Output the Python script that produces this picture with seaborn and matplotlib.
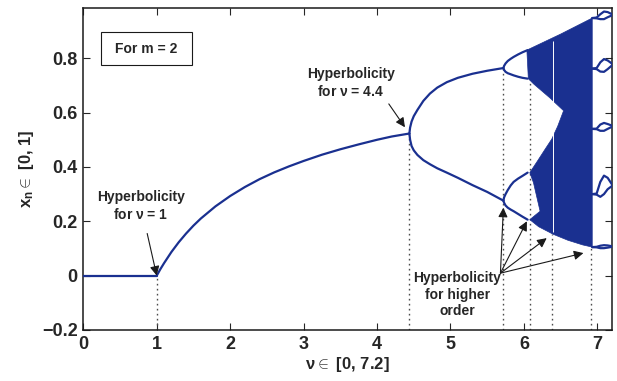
import numpy as np
import pandas as pd
import matplotlib
matplotlib.use("Agg")
import matplotlib.pyplot as plt
import matplotlib.patches as mpatches
import seaborn as sns

# ramo x = 0 (nu < 1)
zero_nu = [0.0, 1.0]
zero_x = [0.0, 0.0]

# ponto fixo entre nu = 1 e nu = 4.44
fixo_nu = [1.0, 1.05, 1.1, 1.2, 1.3, 1.4, 1.5, 1.6, 1.8, 2.0, 2.2, 2.4, 2.6,
           2.8, 3.0, 3.25, 3.5, 3.75, 4.0, 4.2, 4.44]
fixo_x = [0.0, 0.024, 0.046, 0.087, 0.123, 0.155, 0.184, 0.21, 0.255, 0.293,
          0.326, 0.355, 0.38, 0.402, 0.422, 0.445, 0.465, 0.483, 0.50, 0.512, 0.523]

# periodo 2
p2_nu = [4.44, 4.45, 4.47, 4.5, 4.55, 4.63, 4.72, 4.82, 4.95, 5.1, 5.3, 5.5, 5.72]
p2_sup = [0.523, 0.545, 0.567, 0.587, 0.61, 0.643, 0.67, 0.692, 0.712, 0.728, 0.743, 0.754, 0.764]
p2_inf = [0.523, 0.50, 0.477, 0.461, 0.444, 0.425, 0.41, 0.395, 0.379, 0.36, 0.333, 0.308, 0.276]

# periodo 4 (bolhas)
p4_nu = [5.72, 5.73, 5.75, 5.78, 5.82, 5.86, 5.92, 5.98, 6.05]
p4a_sup = [0.764, 0.772, 0.781, 0.79, 0.798, 0.805, 0.814, 0.822, 0.83]
p4a_inf = [0.764, 0.757, 0.75, 0.745, 0.741, 0.737, 0.732, 0.728, 0.725]
p4b_sup = [0.276, 0.288, 0.3, 0.315, 0.332, 0.345, 0.357, 0.367, 0.379]
p4b_inf = [0.276, 0.268, 0.258, 0.25, 0.243, 0.237, 0.227, 0.217, 0.206]

# contorno da regiao caotica
banda_nu = [6.04, 6.5, 6.93, 6.93, 6.8, 6.6, 6.4, 6.2, 6.08,
            6.22, 6.13, 6.08, 6.18, 6.29, 6.38, 6.46, 6.54, 6.35, 6.13, 6.06, 6.04]
banda_x = [0.83, 0.889, 0.948, 0.105, 0.113, 0.13, 0.152, 0.18, 0.206,
           0.237, 0.342, 0.379, 0.42, 0.466, 0.503, 0.55, 0.607, 0.655, 0.706, 0.725, 0.83]

# janela periodica estreita dentro do caos
janela_nu = [6.39]
janela_x = [(0.16, 0.865)]

# janela periodica depois de nu = 6.93 (laços)
laco_nu = [6.93, 6.99, 7.04, 7.09, 7.14, 7.2]
lacos = [
    ([0.948, 0.950, 0.962, 0.972, 0.970, 0.962], [0.948, 0.947, 0.944, 0.944, 0.951, 0.958]),
    ([0.762, 0.764, 0.785, 0.797, 0.792, 0.780], [0.762, 0.760, 0.751, 0.750, 0.760, 0.774]),
    ([0.540, 0.541, 0.556, 0.562, 0.558, 0.552], [0.540, 0.539, 0.533, 0.533, 0.540, 0.548]),
    ([0.300, 0.302, 0.345, 0.368, 0.360, 0.335], [0.300, 0.298, 0.290, 0.300, 0.318, 0.330]),
    ([0.105, 0.106, 0.110, 0.112, 0.111, 0.108], [0.105, 0.104, 0.101, 0.101, 0.103, 0.106]),
]

# linhas pontilhadas (nu, altura)
pont_nu = [1.0, 4.44, 5.72, 6.08, 6.38, 6.91]
pont_topo = [0.0, 0.523, 0.764, 0.81, 0.152, 0.105]

azul = "#1a3090"

sns.set_theme(style="ticks")
plt.rcParams["font.family"] = ["Liberation Sans", "DejaVu Sans"]
plt.rcParams["font.weight"] = "bold"
plt.rcParams["mathtext.fontset"] = "custom"
plt.rcParams["mathtext.rm"] = "Liberation Sans"
plt.rcParams["mathtext.bf"] = "Liberation Sans:bold"
plt.rcParams["mathtext.it"] = "Liberation Sans:italic"

fig = plt.figure(figsize=(6.17, 3.81), dpi=100)
ax = fig.add_axes([0.135, 0.134, 0.857, 0.845])

# Linhas pontilhadas
ax.vlines(pont_nu, -0.2, pont_topo, colors="0.3", linestyles=[(0, (1.2, 2.4))], lw=1.0, zorder=1)

# Regiao caotica
ax.fill(banda_nu, banda_x, color=azul, lw=0.5, zorder=2)
for nu, (a, b) in zip(janela_nu, janela_x):
    ax.vlines(nu, a, b, colors="white", lw=0.7, zorder=2.5)

# Ramos
def ramo(x, y):
    sns.lineplot(x=x, y=y, ax=ax, color=azul, lw=1.6, sort=False, estimator=None, zorder=3)

ramo(zero_nu, zero_x)
ramo(fixo_nu, fixo_x)
ramo(p2_nu, p2_sup)
ramo(p2_nu, p2_inf)
ramo(p4_nu, p4a_sup)
ramo(p4_nu, p4a_inf)
ramo(p4_nu, p4b_sup)
ramo(p4_nu, p4b_inf)
for sup, inf in lacos:
    ramo(laco_nu, sup)
    ramo(laco_nu, inf)

# Anotacoes
seta = dict(arrowstyle="-|>", color="k", lw=0.8, mutation_scale=14, shrinkA=0, shrinkB=0)

ax.text(0.78, 0.255, "Hyperbolicity\nfor $\\mathrm{\\nu}$ = 1", ha="center", va="center",
        fontsize=10, fontweight="bold", linespacing=1.25)
ax.annotate("", xy=(1.0, 0.0), xytext=(0.87, 0.155), arrowprops=seta)

ax.text(3.64, 0.71, "Hyperbolicity\nfor $\\mathrm{\\nu}$ = 4.4", ha="center", va="center",
        fontsize=10, fontweight="bold", linespacing=1.25)
ax.annotate("", xy=(4.38, 0.546), xytext=(4.16, 0.632), arrowprops=seta)

ax.text(5.09, -0.07, "Hyperbolicity\nfor higher\norder", ha="center", va="center",
        fontsize=10, fontweight="bold", linespacing=1.25)
origem = (5.68, 0.009)
for ponta in [(5.72, 0.25), (6.04, 0.20), (6.31, 0.138), (6.81, 0.083)]:
    ax.annotate("", xy=ponta, xytext=origem, arrowprops=seta)

caixa = mpatches.Rectangle((0.033, 0.823), 0.173, 0.102, transform=ax.transAxes,
                           fc="white", ec="k", lw=0.8, zorder=4)
ax.add_patch(caixa)
ax.text(0.1195, 0.874, "For m = 2", transform=ax.transAxes, ha="center", va="center",
        fontsize=10, fontweight="bold", zorder=5)

# Eixos
ax.set_xlim(0, 7.2)
ax.set_ylim(-0.2, 0.985)
ax.set_xticks(range(0, 8))
ax.set_yticks([-0.2, 0, 0.2, 0.4, 0.6, 0.8])
ax.set_yticklabels(["\u22120.2", "0", "0.2", "0.4", "0.6", "0.8"])
ax.tick_params(direction="in", top=True, right=True, length=5, width=0.8,
               labelsize=13, pad=4)
for lab in ax.get_xticklabels() + ax.get_yticklabels():
    lab.set_fontweight("bold")
for s in ax.spines.values():
    s.set_linewidth(1.1)
    s.set_color("k")

ax.set_xlabel("$\\mathrm{\\nu}\\in$ [0, 7.2]", fontsize=12, fontweight="bold", labelpad=2)
ax.set_ylabel("$\\mathbf{x_n}\\in$ [0, 1]", fontsize=12, fontweight="bold", labelpad=4)

fig.savefig("out.png", dpi=100)
